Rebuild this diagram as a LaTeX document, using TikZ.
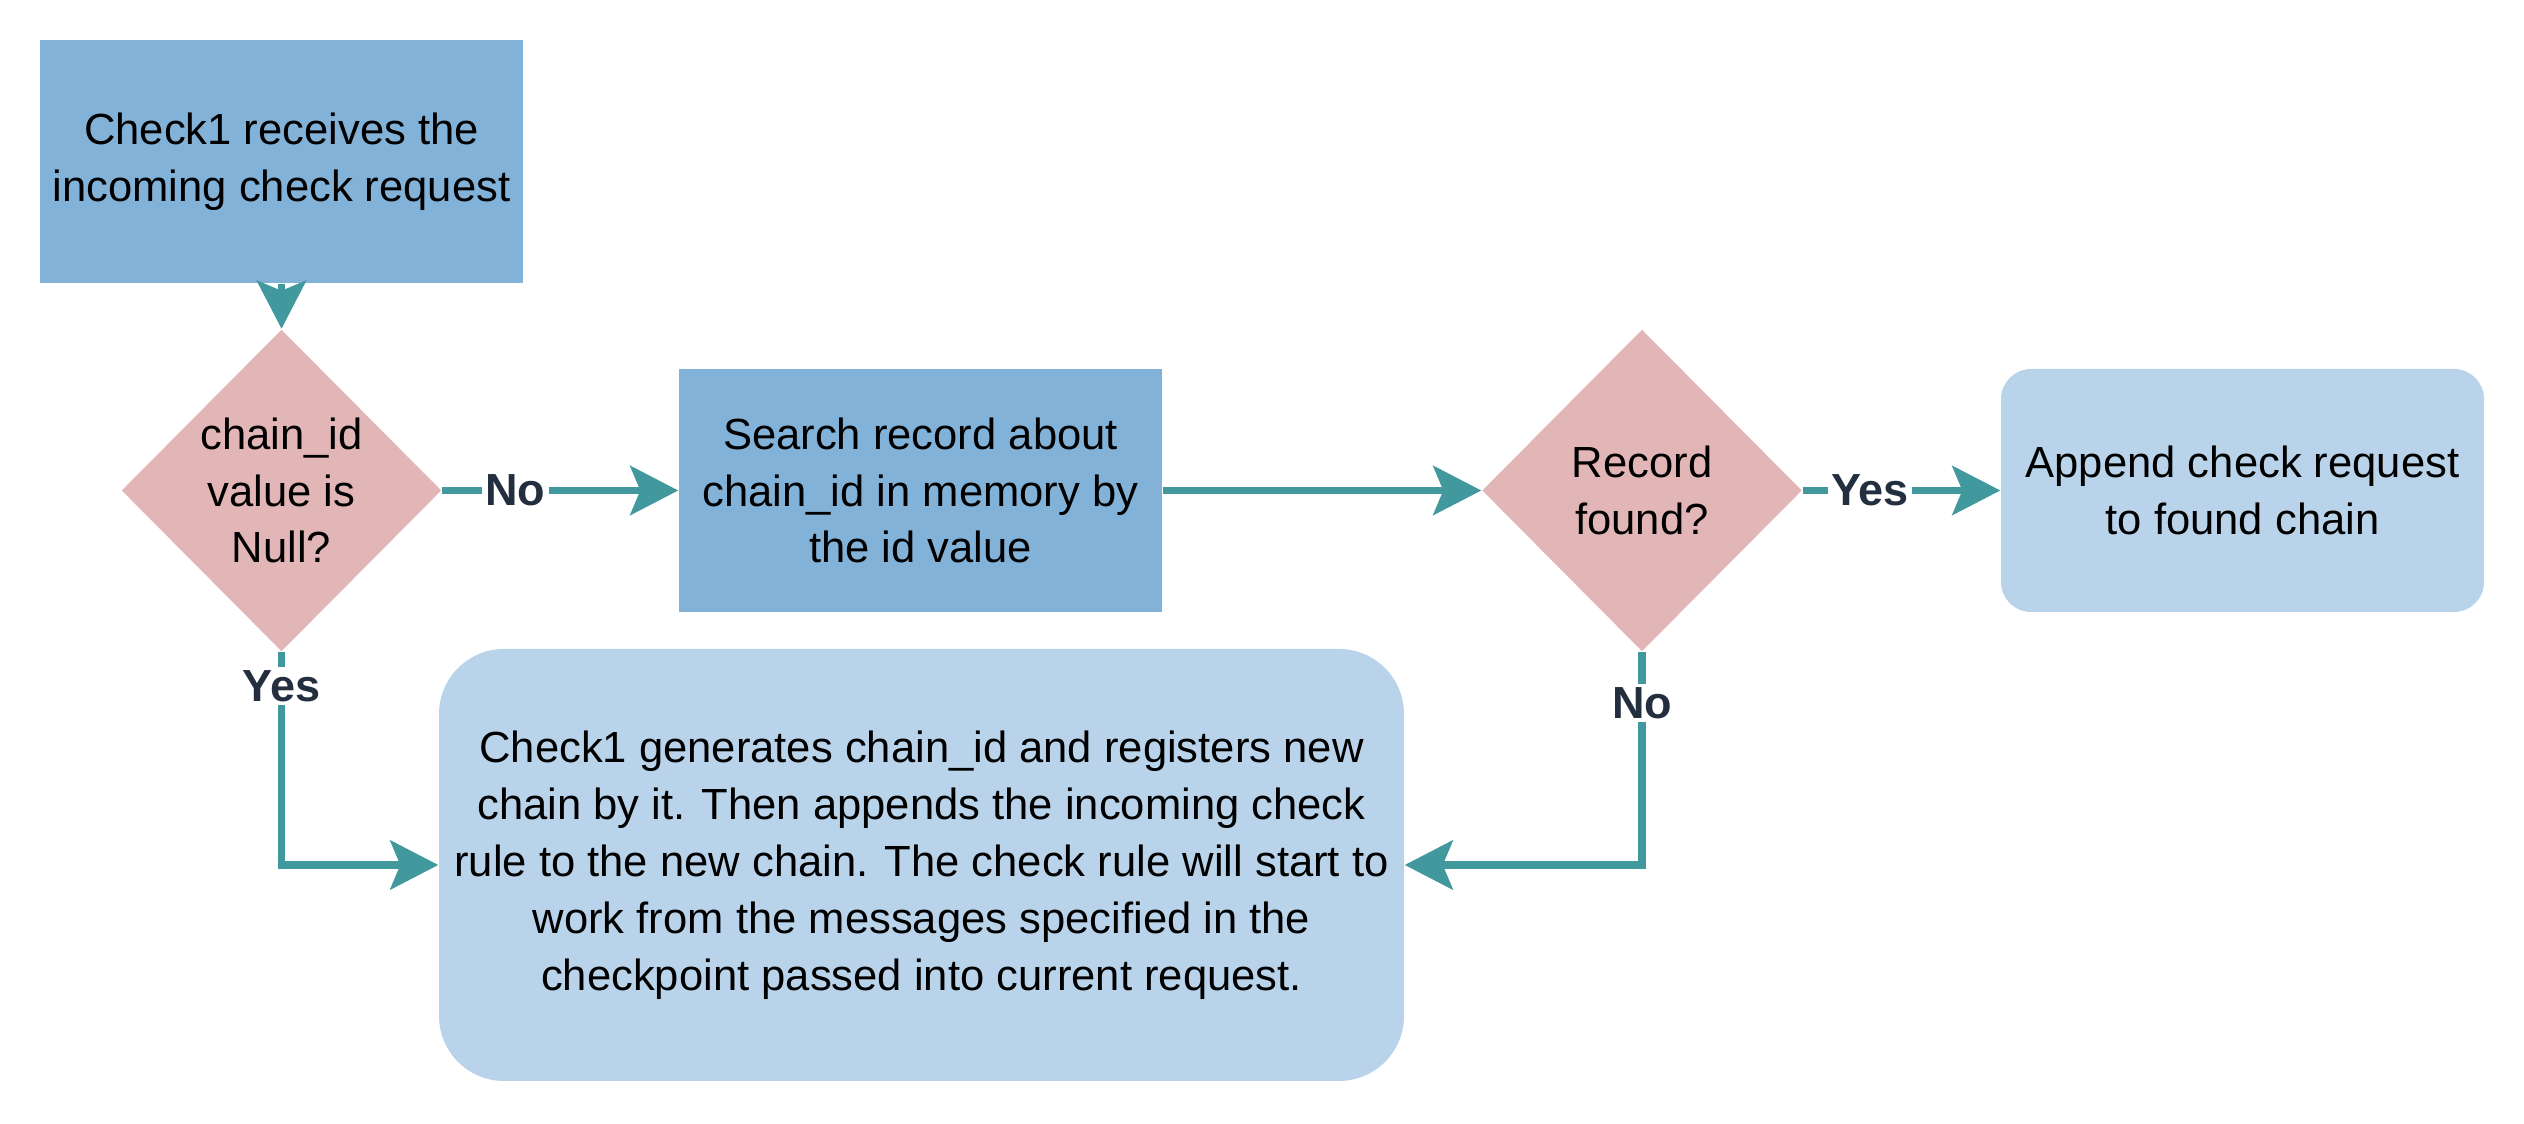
\documentclass[tikz,border=0pt]{standalone}
\usepackage{fontspec}
\setmainfont{Liberation Sans}
\usetikzlibrary{shapes.geometric,arrows.meta}
\definecolor{boxblue}{RGB}{131,178,216}
\definecolor{paleblue}{RGB}{185,212,234}
\definecolor{testpink}{RGB}{226,182,183}
\definecolor{flowteal}{RGB}{65,153,157}
\definecolor{labelgray}{RGB}{35,47,62}
\begin{document}
\begin{tikzpicture}[
  every node/.style={font=\fontsize{12.4}{16.2}\selectfont, align=center},
  stepbox/.style={rectangle, fill=boxblue, minimum width=4.83cm, minimum height=2.43cm, inner sep=0pt},
  endbox/.style={rectangle, rounded corners=0.3cm, fill=paleblue, minimum width=4.83cm, minimum height=2.43cm, inner sep=0pt},
  testbox/.style={diamond, aspect=1, fill=testpink, minimum width=3.2cm, minimum height=3.22cm, inner sep=0pt},
  flow/.style={draw=flowteal, line width=0.075cm, -{Stealth[length=4.8mm, width=4.9mm, inset=1mm]}},
  flowlabel/.style={font=\bfseries\fontsize{12.8}{15}\selectfont, text=labelgray, fill=white, inner sep=1pt}
]
\useasboundingbox (0,0) rectangle (25.24,11.24);
% nodes
\node[stepbox] (recv) at (2.815,9.625) {Check1 receives the\\incoming check request};
\node[testbox] (isnull) at (2.815,6.335) {chain\_id\\value is\\Null?};
\node[stepbox] (search) at (9.205,6.335) {Search record about\\chain\_id in memory by\\the id value};
\node[testbox] (found) at (16.42,6.335) {Record\\found?};
\node[endbox] (append) at (22.425,6.335) {Append check request\\to found chain};
\node[endbox, rounded corners=0.65cm, minimum width=9.65cm, minimum height=4.32cm] (newchain) at (9.215,2.59)
  {Check1 generates chain\_id and registers new\\chain by it. Then appends the incoming check\\rule to the new chain. The check rule will start to\\work from the messages specified in the\\checkpoint passed into current request.};
% connectors
\draw[flow] (recv.south) -- (isnull.north);
\draw[flow] (isnull.east) -- node[flowlabel, pos=0.31] {No} (search.west);
\draw[flow] (search.east) -- (found.west);
\draw[flow] (found.east) -- node[flowlabel, pos=0.34] {Yes} (append.west);
\draw[flow] (isnull.south) |- node[flowlabel, pos=0.08] {Yes} (newchain.west);
\draw[flow] (found.south) |- node[flowlabel, pos=0.12] {No} (newchain.east);
\end{tikzpicture}
\end{document}
